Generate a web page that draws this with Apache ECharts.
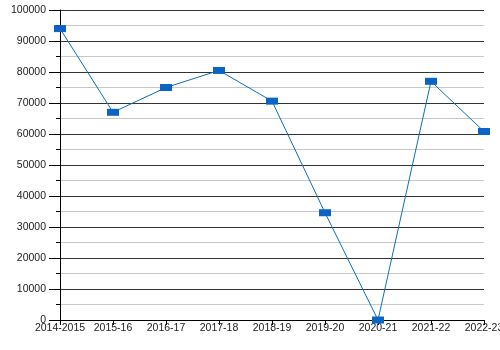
<!DOCTYPE html>
<html><head><meta charset="utf-8">
<script src="https://cdn.jsdelivr.net/npm/echarts@6/dist/echarts.min.js"></script>
<style>html,body{margin:0;padding:0;background:#fff}#c{width:500px;height:350px}</style>
</head><body><div id="c"></div>
<script>
var categories = ['2014-2015','2015-16','2016-17','2017-18','2018-19','2019-20','2020-21','2021-22','2022-23'];
var values = [94000, 67000, 75000, 80500, 70600, 34600, 0, 77000, 60800];

var chart = echarts.init(document.getElementById('c'), null, {renderer:'canvas'});
chart.setOption({
  animation: false,
  backgroundColor: '#fff',
  grid: {left: 60, right: 16, top: 10, bottom: 30, containLabel: false, outerBoundsMode: 'none'},
  xAxis: {
    type: 'category', data: categories, boundaryGap: false,
    axisLine: {show: true, lineStyle: {color: '#000', width: 1}},
    axisTick: {show: true, length: 5, lineStyle: {color: '#000'}},
    axisLabel: {margin: 3, color: '#222', fontSize: 10.5, fontFamily: 'Liberation Sans', interval: 0, hideOverlap: false},
    splitLine: {show: false}
  },
  yAxis: {
    type: 'value', min: 0, max: 100000, interval: 10000,
    axisLine: {show: true, lineStyle: {color: '#000', width: 1}},
    axisTick: {show: true, length: 11, lineStyle: {color: '#000'}},
    minorTick: {show: true, splitNumber: 2, length: 4, lineStyle: {color: '#000'}},
    axisLabel: {margin: 14, color: '#222', fontSize: 10.5, fontFamily: 'Liberation Sans', formatter: function(v){ return String(v); }},
    splitLine: {show: true, lineStyle: {color: '#333', width: 1}},
    minorSplitLine: {show: true, lineStyle: {color: '#c8c8c8', width: 1}}
  },
  series: [{
    type: 'line', data: values,
    symbol: 'rect', symbolSize: [12, 7],
    itemStyle: {color: '#0b63c4'},
    lineStyle: {color: '#0e6fb0', width: 1}
  }]
});
</script></body></html>
